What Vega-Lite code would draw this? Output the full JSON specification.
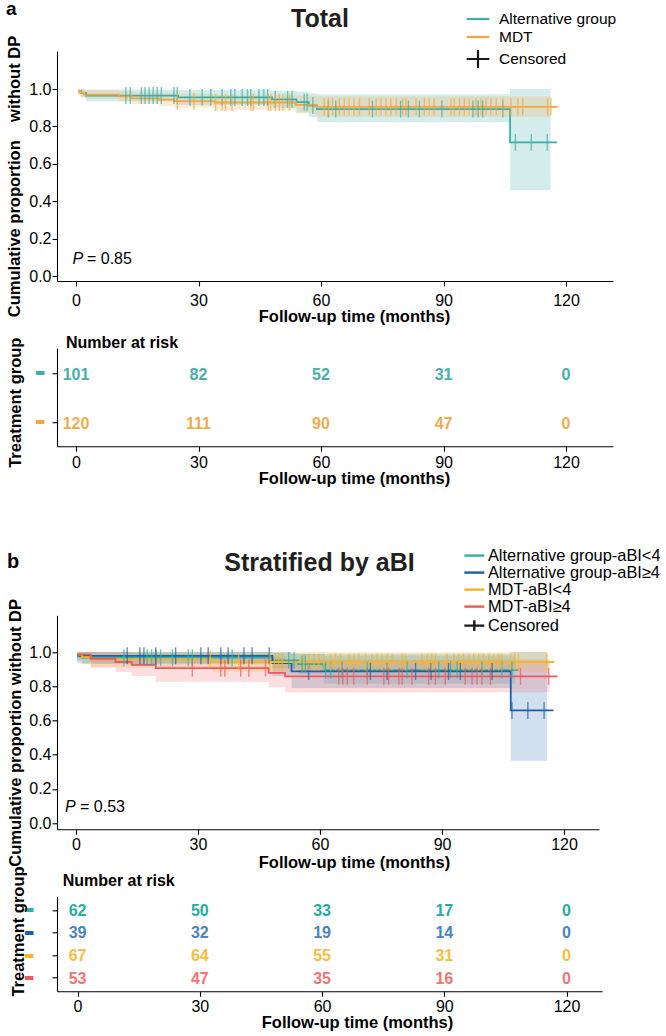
{
  "$schema": "https://vega.github.io/schema/vega-lite/v6.json",
  "background": "white",
  "padding": {"left": 5, "top": 0, "right": 0, "bottom": 0},
  "config": {
    "font": "Liberation Sans",
    "view": {"stroke": null},
    "axis": {
      "grid": false,
      "domainColor": "#000000",
      "domainWidth": 1.1,
      "tickColor": "#000000",
      "tickWidth": 1.1,
      "tickSize": 5,
      "labelFont": "Liberation Sans",
      "labelFontSize": 16,
      "labelColor": "#000000",
      "titleFont": "Liberation Sans",
      "titleFontSize": 16.5,
      "titleFontWeight": "bold",
      "titleColor": "#000000"
    },
    "title": {"font": "Liberation Sans", "color": "#000000", "offset": 0},
    "text": {"font": "Liberation Sans"}
  },
  "datasets": {
    "kmA": [
      {"group": "Alternative group", "t": 0.5, "s": 0.99, "lo": 0.975, "hi": 1.0},
      {"group": "Alternative group", "t": 1.2, "s": 0.978, "lo": 0.955, "hi": 1.0},
      {"group": "Alternative group", "t": 2.5, "s": 0.965, "lo": 0.935, "hi": 0.997},
      {"group": "Alternative group", "t": 25, "s": 0.955, "lo": 0.915, "hi": 0.995},
      {"group": "Alternative group", "t": 48, "s": 0.945, "lo": 0.9, "hi": 0.99},
      {"group": "Alternative group", "t": 54, "s": 0.93, "lo": 0.875, "hi": 0.985},
      {"group": "Alternative group", "t": 57, "s": 0.912, "lo": 0.85, "hi": 0.978},
      {"group": "Alternative group", "t": 59, "s": 0.893, "lo": 0.823, "hi": 0.972},
      {"group": "Alternative group", "t": 106.3, "s": 0.715, "lo": 0.46, "hi": 1.0},
      {"group": "Alternative group", "t": 116.2, "s": 0.715, "lo": 0.46, "hi": 1.0},
      {"group": "Alternative group", "t": 117.8, "s": 0.715, "lo": null, "hi": null},
      {"group": "MDT", "t": 0.5, "s": 0.99, "lo": 0.97, "hi": 1.0},
      {"group": "MDT", "t": 1.0, "s": 0.98, "lo": 0.96, "hi": 1.0},
      {"group": "MDT", "t": 2.0, "s": 0.97, "lo": 0.948, "hi": 0.995},
      {"group": "MDT", "t": 10.5, "s": 0.961, "lo": 0.935, "hi": 0.99},
      {"group": "MDT", "t": 13.8, "s": 0.95, "lo": 0.92, "hi": 0.985},
      {"group": "MDT", "t": 20.3, "s": 0.943, "lo": 0.91, "hi": 0.98},
      {"group": "MDT", "t": 24, "s": 0.935, "lo": 0.9, "hi": 0.975},
      {"group": "MDT", "t": 34, "s": 0.928, "lo": 0.888, "hi": 0.97},
      {"group": "MDT", "t": 53.8, "s": 0.915, "lo": 0.87, "hi": 0.966},
      {"group": "MDT", "t": 58.7, "s": 0.905, "lo": 0.85, "hi": 0.962},
      {"group": "MDT", "t": 116.3, "s": 0.905, "lo": 0.85, "hi": 0.962},
      {"group": "MDT", "t": 118, "s": 0.905, "lo": null, "hi": null}
    ],
    "censA": [
      {"group": "Alternative group", "t": 12.2, "s": 0.965},
      {"group": "Alternative group", "t": 13.3, "s": 0.965},
      {"group": "Alternative group", "t": 16.0, "s": 0.965},
      {"group": "Alternative group", "t": 16.9, "s": 0.965},
      {"group": "Alternative group", "t": 17.9, "s": 0.965},
      {"group": "Alternative group", "t": 18.9, "s": 0.965},
      {"group": "Alternative group", "t": 19.9, "s": 0.965},
      {"group": "Alternative group", "t": 20.9, "s": 0.965},
      {"group": "Alternative group", "t": 24.0, "s": 0.965},
      {"group": "Alternative group", "t": 24.8, "s": 0.965},
      {"group": "Alternative group", "t": 27.9, "s": 0.955},
      {"group": "Alternative group", "t": 30.9, "s": 0.955},
      {"group": "Alternative group", "t": 33.0, "s": 0.955},
      {"group": "Alternative group", "t": 35.8, "s": 0.955},
      {"group": "Alternative group", "t": 37.9, "s": 0.955},
      {"group": "Alternative group", "t": 38.9, "s": 0.955},
      {"group": "Alternative group", "t": 40.7, "s": 0.955},
      {"group": "Alternative group", "t": 42.0, "s": 0.955},
      {"group": "Alternative group", "t": 42.8, "s": 0.955},
      {"group": "Alternative group", "t": 44.8, "s": 0.955},
      {"group": "Alternative group", "t": 46.0, "s": 0.955},
      {"group": "Alternative group", "t": 46.9, "s": 0.955},
      {"group": "Alternative group", "t": 48.8, "s": 0.945},
      {"group": "Alternative group", "t": 51.8, "s": 0.945},
      {"group": "Alternative group", "t": 52.9, "s": 0.945},
      {"group": "Alternative group", "t": 55.9, "s": 0.93},
      {"group": "Alternative group", "t": 56.6, "s": 0.93},
      {"group": "Alternative group", "t": 58.0, "s": 0.912},
      {"group": "Alternative group", "t": 61.8, "s": 0.893},
      {"group": "Alternative group", "t": 63.6, "s": 0.893},
      {"group": "Alternative group", "t": 72.6, "s": 0.893},
      {"group": "Alternative group", "t": 79.5, "s": 0.893},
      {"group": "Alternative group", "t": 81.4, "s": 0.893},
      {"group": "Alternative group", "t": 84.1, "s": 0.893},
      {"group": "Alternative group", "t": 89.6, "s": 0.893},
      {"group": "Alternative group", "t": 97.2, "s": 0.893},
      {"group": "Alternative group", "t": 98.5, "s": 0.893},
      {"group": "Alternative group", "t": 99.6, "s": 0.893},
      {"group": "Alternative group", "t": 104.5, "s": 0.893},
      {"group": "Alternative group", "t": 107.6, "s": 0.715},
      {"group": "Alternative group", "t": 111.5, "s": 0.715},
      {"group": "Alternative group", "t": 115.4, "s": 0.715},
      {"group": "MDT", "t": 24.8, "s": 0.935},
      {"group": "MDT", "t": 28.9, "s": 0.935},
      {"group": "MDT", "t": 34.2, "s": 0.928},
      {"group": "MDT", "t": 35.8, "s": 0.928},
      {"group": "MDT", "t": 36.6, "s": 0.928},
      {"group": "MDT", "t": 38.2, "s": 0.928},
      {"group": "MDT", "t": 42.8, "s": 0.928},
      {"group": "MDT", "t": 43.4, "s": 0.928},
      {"group": "MDT", "t": 47.1, "s": 0.928},
      {"group": "MDT", "t": 47.7, "s": 0.928},
      {"group": "MDT", "t": 48.8, "s": 0.928},
      {"group": "MDT", "t": 49.8, "s": 0.928},
      {"group": "MDT", "t": 50.7, "s": 0.928},
      {"group": "MDT", "t": 52.3, "s": 0.928},
      {"group": "MDT", "t": 60.8, "s": 0.905},
      {"group": "MDT", "t": 61.8, "s": 0.905},
      {"group": "MDT", "t": 62.8, "s": 0.905},
      {"group": "MDT", "t": 64.5, "s": 0.905},
      {"group": "MDT", "t": 65.7, "s": 0.905},
      {"group": "MDT", "t": 66.9, "s": 0.905},
      {"group": "MDT", "t": 68.1, "s": 0.905},
      {"group": "MDT", "t": 69.4, "s": 0.905},
      {"group": "MDT", "t": 71.8, "s": 0.905},
      {"group": "MDT", "t": 73.5, "s": 0.905},
      {"group": "MDT", "t": 74.7, "s": 0.905},
      {"group": "MDT", "t": 75.9, "s": 0.905},
      {"group": "MDT", "t": 77.1, "s": 0.905},
      {"group": "MDT", "t": 78.4, "s": 0.905},
      {"group": "MDT", "t": 80.0, "s": 0.905},
      {"group": "MDT", "t": 80.8, "s": 0.905},
      {"group": "MDT", "t": 83.3, "s": 0.905},
      {"group": "MDT", "t": 85.3, "s": 0.905},
      {"group": "MDT", "t": 86.5, "s": 0.905},
      {"group": "MDT", "t": 87.7, "s": 0.905},
      {"group": "MDT", "t": 91.8, "s": 0.905},
      {"group": "MDT", "t": 92.6, "s": 0.905},
      {"group": "MDT", "t": 93.9, "s": 0.905},
      {"group": "MDT", "t": 95.1, "s": 0.905},
      {"group": "MDT", "t": 96.3, "s": 0.905},
      {"group": "MDT", "t": 98.0, "s": 0.905},
      {"group": "MDT", "t": 99.2, "s": 0.905},
      {"group": "MDT", "t": 100.4, "s": 0.905},
      {"group": "MDT", "t": 101.6, "s": 0.905},
      {"group": "MDT", "t": 102.9, "s": 0.905},
      {"group": "MDT", "t": 104.5, "s": 0.905},
      {"group": "MDT", "t": 106.5, "s": 0.905},
      {"group": "MDT", "t": 108.2, "s": 0.905},
      {"group": "MDT", "t": 109.4, "s": 0.905},
      {"group": "MDT", "t": 115.5, "s": 0.905},
      {"group": "MDT", "t": 116.3, "s": 0.905}
    ],
    "riskA": [
      {"group": "Alternative group", "t": 0, "n": 101},
      {"group": "Alternative group", "t": 30, "n": 82},
      {"group": "Alternative group", "t": 60, "n": 52},
      {"group": "Alternative group", "t": 90, "n": 31},
      {"group": "Alternative group", "t": 120, "n": 0},
      {"group": "MDT", "t": 0, "n": 120},
      {"group": "MDT", "t": 30, "n": 111},
      {"group": "MDT", "t": 60, "n": 90},
      {"group": "MDT", "t": 90, "n": 47},
      {"group": "MDT", "t": 120, "n": 0}
    ],
    "kmB": [
      {"group": "Alternative group-aBI<4", "t": 0.3, "s": 0.984, "lo": 0.95, "hi": 1.0},
      {"group": "Alternative group-aBI<4", "t": 1.5, "s": 0.967, "lo": 0.93, "hi": 1.0},
      {"group": "Alternative group-aBI<4", "t": 48.3, "s": 0.951, "lo": 0.905, "hi": 0.995},
      {"group": "Alternative group-aBI<4", "t": 54.6, "s": 0.93, "lo": 0.87, "hi": 0.99},
      {"group": "Alternative group-aBI<4", "t": 60.9, "s": 0.895, "lo": 0.815, "hi": 0.98},
      {"group": "Alternative group-aBI<4", "t": 108, "s": 0.895, "lo": 0.815, "hi": 0.98},
      {"group": "Alternative group-aBI<4", "t": 108.8, "s": 0.895, "lo": null, "hi": null},
      {"group": "Alternative group-aBI≥4", "t": 0.3, "s": 0.978, "lo": 0.935, "hi": 1.0},
      {"group": "Alternative group-aBI≥4", "t": 48.3, "s": 0.936, "lo": 0.86, "hi": 1.0},
      {"group": "Alternative group-aBI≥4", "t": 53, "s": 0.887, "lo": 0.79, "hi": 0.99},
      {"group": "Alternative group-aBI≥4", "t": 106.9, "s": 0.659, "lo": 0.365, "hi": 1.0},
      {"group": "Alternative group-aBI≥4", "t": 115.8, "s": 0.659, "lo": 0.365, "hi": 1.0},
      {"group": "Alternative group-aBI≥4", "t": 117.4, "s": 0.659, "lo": null, "hi": null},
      {"group": "MDT-aBI<4", "t": 0.3, "s": 0.985, "lo": 0.955, "hi": 1.0},
      {"group": "MDT-aBI<4", "t": 1.5, "s": 0.97, "lo": 0.93, "hi": 1.0},
      {"group": "MDT-aBI<4", "t": 3.6, "s": 0.957, "lo": 0.91, "hi": 1.0},
      {"group": "MDT-aBI<4", "t": 33.5, "s": 0.942, "lo": 0.885, "hi": 1.0},
      {"group": "MDT-aBI<4", "t": 116, "s": 0.942, "lo": 0.885, "hi": 1.0},
      {"group": "MDT-aBI<4", "t": 117.6, "s": 0.942, "lo": null, "hi": null},
      {"group": "MDT-aBI≥4", "t": 0.3, "s": 0.987, "lo": 0.96, "hi": 1.0},
      {"group": "MDT-aBI≥4", "t": 3.6, "s": 0.961, "lo": 0.91, "hi": 1.0},
      {"group": "MDT-aBI≥4", "t": 9.7, "s": 0.942, "lo": 0.883, "hi": 1.0},
      {"group": "MDT-aBI≥4", "t": 13.7, "s": 0.926, "lo": 0.86, "hi": 0.995},
      {"group": "MDT-aBI≥4", "t": 19.6, "s": 0.906, "lo": 0.825, "hi": 0.99},
      {"group": "MDT-aBI≥4", "t": 47.4, "s": 0.879, "lo": 0.795, "hi": 0.97},
      {"group": "MDT-aBI≥4", "t": 51.4, "s": 0.858, "lo": 0.765, "hi": 0.955},
      {"group": "MDT-aBI≥4", "t": 116.5, "s": 0.858, "lo": 0.765, "hi": 0.955},
      {"group": "MDT-aBI≥4", "t": 118.4, "s": 0.858, "lo": null, "hi": null}
    ],
    "censB": [
      {"group": "Alternative group-aBI<4", "t": 11.8, "s": 0.967},
      {"group": "Alternative group-aBI<4", "t": 17.5, "s": 0.967},
      {"group": "Alternative group-aBI<4", "t": 18.6, "s": 0.967},
      {"group": "Alternative group-aBI<4", "t": 19.7, "s": 0.967},
      {"group": "Alternative group-aBI<4", "t": 20.8, "s": 0.967},
      {"group": "Alternative group-aBI<4", "t": 23.7, "s": 0.967},
      {"group": "Alternative group-aBI<4", "t": 27.6, "s": 0.967},
      {"group": "Alternative group-aBI<4", "t": 28.6, "s": 0.967},
      {"group": "Alternative group-aBI<4", "t": 38.4, "s": 0.967},
      {"group": "Alternative group-aBI<4", "t": 52.3, "s": 0.951},
      {"group": "Alternative group-aBI<4", "t": 53.6, "s": 0.951},
      {"group": "Alternative group-aBI<4", "t": 55.6, "s": 0.93},
      {"group": "Alternative group-aBI<4", "t": 56.4, "s": 0.93},
      {"group": "Alternative group-aBI<4", "t": 61.4, "s": 0.895},
      {"group": "Alternative group-aBI<4", "t": 62.6, "s": 0.895},
      {"group": "Alternative group-aBI<4", "t": 65.4, "s": 0.895},
      {"group": "Alternative group-aBI<4", "t": 71.6, "s": 0.895},
      {"group": "Alternative group-aBI<4", "t": 81.4, "s": 0.895},
      {"group": "Alternative group-aBI<4", "t": 89.2, "s": 0.895},
      {"group": "Alternative group-aBI<4", "t": 92.1, "s": 0.895},
      {"group": "Alternative group-aBI<4", "t": 93.7, "s": 0.895},
      {"group": "Alternative group-aBI<4", "t": 99.8, "s": 0.895},
      {"group": "Alternative group-aBI<4", "t": 104.7, "s": 0.895},
      {"group": "Alternative group-aBI<4", "t": 107.2, "s": 0.895},
      {"group": "Alternative group-aBI≥4", "t": 12.6, "s": 0.978},
      {"group": "Alternative group-aBI≥4", "t": 15.7, "s": 0.978},
      {"group": "Alternative group-aBI≥4", "t": 16.7, "s": 0.978},
      {"group": "Alternative group-aBI≥4", "t": 19.6, "s": 0.978},
      {"group": "Alternative group-aBI≥4", "t": 24.5, "s": 0.978},
      {"group": "Alternative group-aBI≥4", "t": 30.7, "s": 0.978},
      {"group": "Alternative group-aBI≥4", "t": 32.5, "s": 0.978},
      {"group": "Alternative group-aBI≥4", "t": 35.6, "s": 0.978},
      {"group": "Alternative group-aBI≥4", "t": 37.4, "s": 0.978},
      {"group": "Alternative group-aBI≥4", "t": 41.3, "s": 0.978},
      {"group": "Alternative group-aBI≥4", "t": 43.3, "s": 0.978},
      {"group": "Alternative group-aBI≥4", "t": 47.5, "s": 0.978},
      {"group": "Alternative group-aBI≥4", "t": 57.2, "s": 0.887},
      {"group": "Alternative group-aBI≥4", "t": 72.4, "s": 0.887},
      {"group": "Alternative group-aBI≥4", "t": 76.5, "s": 0.887},
      {"group": "Alternative group-aBI≥4", "t": 83.5, "s": 0.887},
      {"group": "Alternative group-aBI≥4", "t": 87.3, "s": 0.887},
      {"group": "Alternative group-aBI≥4", "t": 91.6, "s": 0.887},
      {"group": "Alternative group-aBI≥4", "t": 94.5, "s": 0.887},
      {"group": "Alternative group-aBI≥4", "t": 102.3, "s": 0.887},
      {"group": "Alternative group-aBI≥4", "t": 107.2, "s": 0.659},
      {"group": "Alternative group-aBI≥4", "t": 111.1, "s": 0.659},
      {"group": "Alternative group-aBI≥4", "t": 115.1, "s": 0.659},
      {"group": "MDT-aBI<4", "t": 33.0, "s": 0.957},
      {"group": "MDT-aBI<4", "t": 40.0, "s": 0.942},
      {"group": "MDT-aBI<4", "t": 47.7, "s": 0.942},
      {"group": "MDT-aBI<4", "t": 48.8, "s": 0.942},
      {"group": "MDT-aBI<4", "t": 49.8, "s": 0.942},
      {"group": "MDT-aBI<4", "t": 50.7, "s": 0.942},
      {"group": "MDT-aBI<4", "t": 56.0, "s": 0.942},
      {"group": "MDT-aBI<4", "t": 57.2, "s": 0.942},
      {"group": "MDT-aBI<4", "t": 58.5, "s": 0.942},
      {"group": "MDT-aBI<4", "t": 59.7, "s": 0.942},
      {"group": "MDT-aBI<4", "t": 60.9, "s": 0.942},
      {"group": "MDT-aBI<4", "t": 62.6, "s": 0.942},
      {"group": "MDT-aBI<4", "t": 63.8, "s": 0.942},
      {"group": "MDT-aBI<4", "t": 65.0, "s": 0.942},
      {"group": "MDT-aBI<4", "t": 67.1, "s": 0.942},
      {"group": "MDT-aBI<4", "t": 68.3, "s": 0.942},
      {"group": "MDT-aBI<4", "t": 69.5, "s": 0.942},
      {"group": "MDT-aBI<4", "t": 71.2, "s": 0.942},
      {"group": "MDT-aBI<4", "t": 72.8, "s": 0.942},
      {"group": "MDT-aBI<4", "t": 74.0, "s": 0.942},
      {"group": "MDT-aBI<4", "t": 75.3, "s": 0.942},
      {"group": "MDT-aBI<4", "t": 76.5, "s": 0.942},
      {"group": "MDT-aBI<4", "t": 77.7, "s": 0.942},
      {"group": "MDT-aBI<4", "t": 80.2, "s": 0.942},
      {"group": "MDT-aBI<4", "t": 81.0, "s": 0.942},
      {"group": "MDT-aBI<4", "t": 85.1, "s": 0.942},
      {"group": "MDT-aBI<4", "t": 86.3, "s": 0.942},
      {"group": "MDT-aBI<4", "t": 87.5, "s": 0.942},
      {"group": "MDT-aBI<4", "t": 88.4, "s": 0.942},
      {"group": "MDT-aBI<4", "t": 91.2, "s": 0.942},
      {"group": "MDT-aBI<4", "t": 92.9, "s": 0.942},
      {"group": "MDT-aBI<4", "t": 94.1, "s": 0.942},
      {"group": "MDT-aBI<4", "t": 95.3, "s": 0.942},
      {"group": "MDT-aBI<4", "t": 96.6, "s": 0.942},
      {"group": "MDT-aBI<4", "t": 97.8, "s": 0.942},
      {"group": "MDT-aBI<4", "t": 99.0, "s": 0.942},
      {"group": "MDT-aBI<4", "t": 100.2, "s": 0.942},
      {"group": "MDT-aBI<4", "t": 101.5, "s": 0.942},
      {"group": "MDT-aBI<4", "t": 102.7, "s": 0.942},
      {"group": "MDT-aBI<4", "t": 103.9, "s": 0.942},
      {"group": "MDT-aBI<4", "t": 104.7, "s": 0.942},
      {"group": "MDT-aBI<4", "t": 106.8, "s": 0.942},
      {"group": "MDT-aBI<4", "t": 107.9, "s": 0.942},
      {"group": "MDT-aBI<4", "t": 108.8, "s": 0.942},
      {"group": "MDT-aBI<4", "t": 115.8, "s": 0.942},
      {"group": "MDT-aBI≥4", "t": 28.6, "s": 0.906},
      {"group": "MDT-aBI≥4", "t": 35.6, "s": 0.906},
      {"group": "MDT-aBI≥4", "t": 36.6, "s": 0.906},
      {"group": "MDT-aBI≥4", "t": 40.5, "s": 0.906},
      {"group": "MDT-aBI≥4", "t": 42.5, "s": 0.906},
      {"group": "MDT-aBI≥4", "t": 46.6, "s": 0.906},
      {"group": "MDT-aBI≥4", "t": 64.6, "s": 0.858},
      {"group": "MDT-aBI≥4", "t": 65.6, "s": 0.858},
      {"group": "MDT-aBI≥4", "t": 66.7, "s": 0.858},
      {"group": "MDT-aBI≥4", "t": 68.3, "s": 0.858},
      {"group": "MDT-aBI≥4", "t": 71.6, "s": 0.858},
      {"group": "MDT-aBI≥4", "t": 75.7, "s": 0.858},
      {"group": "MDT-aBI≥4", "t": 76.9, "s": 0.858},
      {"group": "MDT-aBI≥4", "t": 79.4, "s": 0.858},
      {"group": "MDT-aBI≥4", "t": 80.2, "s": 0.858},
      {"group": "MDT-aBI≥4", "t": 82.6, "s": 0.858},
      {"group": "MDT-aBI≥4", "t": 86.7, "s": 0.858},
      {"group": "MDT-aBI≥4", "t": 88.4, "s": 0.858},
      {"group": "MDT-aBI≥4", "t": 90.8, "s": 0.858},
      {"group": "MDT-aBI≥4", "t": 95.7, "s": 0.858},
      {"group": "MDT-aBI≥4", "t": 97.4, "s": 0.858},
      {"group": "MDT-aBI≥4", "t": 98.6, "s": 0.858},
      {"group": "MDT-aBI≥4", "t": 99.8, "s": 0.858},
      {"group": "MDT-aBI≥4", "t": 101.9, "s": 0.858},
      {"group": "MDT-aBI≥4", "t": 109.3, "s": 0.858},
      {"group": "MDT-aBI≥4", "t": 116.2, "s": 0.858}
    ],
    "riskB": [
      {"group": "Alternative group-aBI<4", "t": 0, "n": 62},
      {"group": "Alternative group-aBI<4", "t": 30, "n": 50},
      {"group": "Alternative group-aBI<4", "t": 60, "n": 33},
      {"group": "Alternative group-aBI<4", "t": 90, "n": 17},
      {"group": "Alternative group-aBI<4", "t": 120, "n": 0},
      {"group": "Alternative group-aBI≥4", "t": 0, "n": 39},
      {"group": "Alternative group-aBI≥4", "t": 30, "n": 32},
      {"group": "Alternative group-aBI≥4", "t": 60, "n": 19},
      {"group": "Alternative group-aBI≥4", "t": 90, "n": 14},
      {"group": "Alternative group-aBI≥4", "t": 120, "n": 0},
      {"group": "MDT-aBI<4", "t": 0, "n": 67},
      {"group": "MDT-aBI<4", "t": 30, "n": 64},
      {"group": "MDT-aBI<4", "t": 60, "n": 55},
      {"group": "MDT-aBI<4", "t": 90, "n": 31},
      {"group": "MDT-aBI<4", "t": 120, "n": 0},
      {"group": "MDT-aBI≥4", "t": 0, "n": 53},
      {"group": "MDT-aBI≥4", "t": 30, "n": 47},
      {"group": "MDT-aBI≥4", "t": 60, "n": 35},
      {"group": "MDT-aBI≥4", "t": 90, "n": 16},
      {"group": "MDT-aBI≥4", "t": 120, "n": 0}
    ]
  },
  "spacing": 59.3,
  "resolve": {
    "scale": {"x": "independent", "y": "independent", "color": "independent", "fill": "independent"},
    "legend": {"color": "independent", "fill": "independent"}
  },
  "vconcat": [
    {
      "title": {"text": "a", "anchor": "start", "frame": "bounds", "fontSize": 19, "fontWeight": "bold", "offset": 0, "dy": 12.5},
      "spacing": 8.2,
      "resolve": {
        "scale": {"x": "independent", "y": "independent", "color": "independent", "fill": "independent"},
        "legend": {"color": "independent", "fill": "independent"}
      },
      "vconcat": [
        {
          "width": 556,
          "height": 230,
          "title": {"text": "Total", "fontSize": 25, "fontWeight": "bold", "anchor": "middle", "frame": "group", "offset": 0, "dy": 22, "dx": -15, "color": "#231F20"},
          "layer": [
            {
              "data": {"name": "kmA"},
              "mark": {"type": "area", "interpolate": "step-after", "fillOpacity": 0.22},
              "encoding": {
                "x": {"field": "t", "type": "quantitative", "scale": {"domain": [-4.65, 131.5], "nice": false, "zero": false},
                  "axis": {"values": [0, 30, 60, 90, 120], "title": "Follow-up time (months)", "titleX": 297, "titleY": 40.7, "titleBaseline": "alphabetic", "titleAlign": "center", "labelPadding": 6, "labelFlush": false}},
                "y": {"field": "lo", "type": "quantitative", "scale": {"domain": [-0.025, 1.203], "nice": false, "zero": false},
                  "axis": {"values": [0, 0.2, 0.4, 0.6, 0.8, 1.0], "format": ".1f", "title": "Cumulative proportion \u00a0\u00a0\u00a0without DP", "titleX": -38, "titleY": 125, "titleBaseline": "alphabetic", "titleAlign": "center", "labelPadding": 1}},
                "y2": {"field": "hi"},
                "fill": {"field": "group", "type": "nominal", "scale": {"domain": ["Alternative group", "MDT"], "range": ["#3AAFA9", "#F5A63F"]}, "legend": null}
              }
            },
            {
              "data": {"name": "kmA"},
              "mark": {"type": "line", "interpolate": "step-after", "strokeWidth": 1.8},
              "encoding": {
                "x": {"field": "t", "type": "quantitative"},
                "y": {"field": "s", "type": "quantitative"},
                "color": {"field": "group", "type": "nominal",
                  "scale": {"domain": ["Alternative group", "MDT", "Censored"], "range": ["#3AAFA9", "#F5A63F", "#1a1a1a"]},
                  "legend": {"orient": "none", "legendX": 411.5, "legendY": -41.5, "title": null, "symbolType": "stroke", "symbolSize": 272, "symbolStrokeWidth": 2.2, "labelFontSize": 15.5, "labelFont": "Liberation Sans", "labelColor": "#000000", "labelOffset": 11.5, "rowPadding": 0, "padding": 0, "labelLimit": 300,
                    "encode": {"symbols": {"update": {"shape": {"signal": "datum.value === 'Censored' ? 'M-1.376,0H1.376M0,-1.09V1.09' : 'M-1.376,0H1.376'"}}}}}
                }
              }
            },
            {
              "data": {"name": "censA"},
              "mark": {"type": "tick", "orient": "vertical", "size": 17, "thickness": 1.4},
              "encoding": {
                "x": {"field": "t", "type": "quantitative"},
                "y": {"field": "s", "type": "quantitative"},
                "color": {"field": "group", "type": "nominal", "legend": null}
              }
            },
            {
              "data": {"values": [{"sym": "P", "val": "= 0.85"}]},
              "mark": {"type": "text", "fontStyle": "italic", "fontSize": 16, "align": "left", "baseline": "middle", "color": "#000000"},
              "encoding": {"x": {"datum": -0.86}, "y": {"datum": 0.092}, "text": {"field": "sym"}}
            },
            {
              "data": {"values": [{"sym": "P", "val": "= 0.85"}]},
              "mark": {"type": "text", "fontSize": 16, "align": "left", "baseline": "middle", "dx": 14.5, "color": "#000000"},
              "encoding": {"x": {"datum": -0.86}, "y": {"datum": 0.092}, "text": {"field": "val"}}
            }
          ]
        },
        {
          "width": 556,
          "height": 98,
          "title": {"text": "Number at risk", "fontSize": 16, "fontWeight": "bold", "anchor": "start", "frame": "group", "offset": 0, "dy": 13.5, "dx": 9},
          "data": {"name": "riskA"},
          "mark": {"type": "text", "fontSize": 16, "fontWeight": "bold", "baseline": "middle", "dy": 2},
          "encoding": {
            "x": {"field": "t", "type": "quantitative", "scale": {"domain": [-4.65, 131.5], "nice": false, "zero": false},
              "axis": {"values": [0, 30, 60, 90, 120], "title": "Follow-up time (months)", "titleX": 297, "titleY": 37, "titleBaseline": "alphabetic", "titleAlign": "center", "labelPadding": 3, "labelFlush": false}},
            "y": {"field": "group", "type": "nominal", "scale": {"type": "point", "domain": ["Alternative group", "MDT"], "padding": 0.5},
              "axis": {"title": "Treatment group", "titleX": -37, "titleY": 54, "titleBaseline": "alphabetic", "titleAlign": "center", "labelExpr": "'▬'", "labelFont": "DejaVu Sans", "labelFontSize": 11, "labelPadding": 7,
                "labelColor": {"condition": {"test": "datum.value === 'MDT'", "value": "#F5A63F"}, "value": "#3AAFA9"}}},
            "text": {"field": "n", "type": "quantitative"},
            "color": {"field": "group", "type": "nominal", "scale": {"domain": ["Alternative group", "MDT"], "range": ["#45B0A8", "#F3AA4C"]}, "legend": null}
          }
        }
      ]
    },
    {
      "title": {"text": "b", "anchor": "start", "frame": "bounds", "fontSize": 20, "fontWeight": "bold", "offset": 0, "dy": 24.4},
      "spacing": -6,
      "resolve": {
        "scale": {"x": "independent", "y": "independent", "color": "independent", "fill": "independent"},
        "legend": {"color": "independent", "fill": "independent"}
      },
      "vconcat": [
        {
          "width": 542,
          "height": 214,
          "title": {"text": "Stratified by aBI", "fontSize": 25, "fontWeight": "bold", "anchor": "middle", "frame": "group", "offset": 0, "dy": 28.4, "dx": -8.5, "color": "#231F20"},
          "layer": [
            {
              "data": {"name": "kmB"},
              "mark": {"type": "area", "interpolate": "step-after", "fillOpacity": 0.2},
              "encoding": {
                "x": {"field": "t", "type": "quantitative", "scale": {"domain": [-4.67, 128.6], "nice": false, "zero": false},
                  "axis": {"values": [0, 30, 60, 90, 120], "title": "Follow-up time (months)", "titleX": 297, "titleY": 37.7, "titleBaseline": "alphabetic", "titleAlign": "center", "labelPadding": 2, "labelFlush": false}},
                "y": {"field": "lo", "type": "quantitative", "scale": {"domain": [-0.036, 1.215], "nice": false, "zero": false},
                  "axis": {"values": [0, 0.2, 0.4, 0.6, 0.8, 1.0], "format": ".1f", "title": "Cumulative proportion without DP", "titleX": -37, "titleY": 117, "titleBaseline": "alphabetic", "titleAlign": "center", "labelPadding": 1}},
                "y2": {"field": "hi"},
                "fill": {"field": "group", "type": "nominal", "scale": {"domain": ["Alternative group-aBI<4", "Alternative group-aBI≥4", "MDT-aBI<4", "MDT-aBI≥4"], "range": ["#2BB3A6", "#1B5FAD", "#F7B520", "#EE5A5A"]}, "legend": null}
              }
            },
            {
              "data": {"name": "kmB"},
              "mark": {"type": "line", "interpolate": "step-after", "strokeWidth": 1.8},
              "encoding": {
                "x": {"field": "t", "type": "quantitative"},
                "y": {"field": "s", "type": "quantitative"},
                "color": {"field": "group", "type": "nominal",
                  "scale": {"domain": ["Alternative group-aBI<4", "Alternative group-aBI≥4", "MDT-aBI<4", "MDT-aBI≥4", "Censored"], "range": ["#2BB3A6", "#1B5FAD", "#F7B520", "#EE5A5A", "#1a1a1a"]},
                  "legend": {"orient": "none", "legendX": 408.8, "legendY": -68.2, "title": null, "symbolType": "stroke", "symbolSize": 185, "symbolStrokeWidth": 2.4, "labelFontSize": 16.4, "labelFont": "Liberation Sans", "labelColor": "#000000", "labelOffset": 5.1, "rowPadding": 0, "padding": 0, "labelLimit": 300,
                    "encode": {"symbols": {"update": {"shape": {"signal": "datum.value === 'Censored' ? 'M-1.47,0H1.47M0,-0.8V0.8' : 'M-1.47,0H1.47'"}}}}}
                }
              }
            },
            {
              "data": {"name": "censB"},
              "mark": {"type": "tick", "orient": "vertical", "size": 17, "thickness": 1.4},
              "encoding": {
                "x": {"field": "t", "type": "quantitative"},
                "y": {"field": "s", "type": "quantitative"},
                "color": {"field": "group", "type": "nominal", "legend": null}
              }
            },
            {
              "data": {"values": [{"sym": "P", "val": "= 0.53"}]},
              "mark": {"type": "text", "fontStyle": "italic", "fontSize": 16, "align": "left", "baseline": "middle", "color": "#000000"},
              "encoding": {"x": {"datum": -2.7}, "y": {"datum": 0.092}, "text": {"field": "sym"}}
            },
            {
              "data": {"values": [{"sym": "P", "val": "= 0.53"}]},
              "mark": {"type": "text", "fontSize": 16, "align": "left", "baseline": "middle", "dx": 15, "color": "#000000"},
              "encoding": {"x": {"datum": -2.7}, "y": {"datum": 0.092}, "text": {"field": "val"}}
            }
          ]
        },
        {
          "width": 545,
          "height": 95,
          "title": {"text": "Number at risk", "fontSize": 16, "fontWeight": "bold", "anchor": "start", "frame": "group", "offset": 0, "dy": 23, "dx": 5.7},
          "data": {"name": "riskB"},
          "mark": {"type": "text", "fontSize": 16, "fontWeight": "bold", "baseline": "middle", "dy": 1},
          "encoding": {
            "x": {"field": "t", "type": "quantitative", "scale": {"domain": [-5.05, 128.7], "nice": false, "zero": false},
              "axis": {"values": [0, 30, 60, 90, 120], "title": "Follow-up time (months)", "titleX": 300, "titleY": 36.5, "titleBaseline": "alphabetic", "titleAlign": "center", "labelPadding": 2, "labelFlush": false}},
            "y": {"field": "group", "type": "nominal", "scale": {"type": "point", "domain": ["Alternative group-aBI<4", "Alternative group-aBI≥4", "MDT-aBI<4", "MDT-aBI≥4"], "padding": 0.6},
              "axis": {"title": "Treatment group", "titleX": -34, "titleY": 34.7, "titleBaseline": "alphabetic", "titleAlign": "center", "labelExpr": "'▬'", "labelFont": "DejaVu Sans", "labelFontSize": 11, "labelPadding": 18,
                "labelColor": {"condition": [
                  {"test": "datum.value === 'Alternative group-aBI≥4'", "value": "#1B5FAD"},
                  {"test": "datum.value === 'MDT-aBI<4'", "value": "#F7B520"},
                  {"test": "datum.value === 'MDT-aBI≥4'", "value": "#EE5A5A"}
                ], "value": "#2BB3A6"}}},
            "text": {"field": "n", "type": "quantitative"},
            "color": {"field": "group", "type": "nominal", "scale": {"domain": ["Alternative group-aBI<4", "Alternative group-aBI≥4", "MDT-aBI<4", "MDT-aBI≥4"], "range": ["#25AE9F", "#4A82C6", "#FBBE3C", "#F27575"]}, "legend": null}
          }
        }
      ]
    }
  ]
}
